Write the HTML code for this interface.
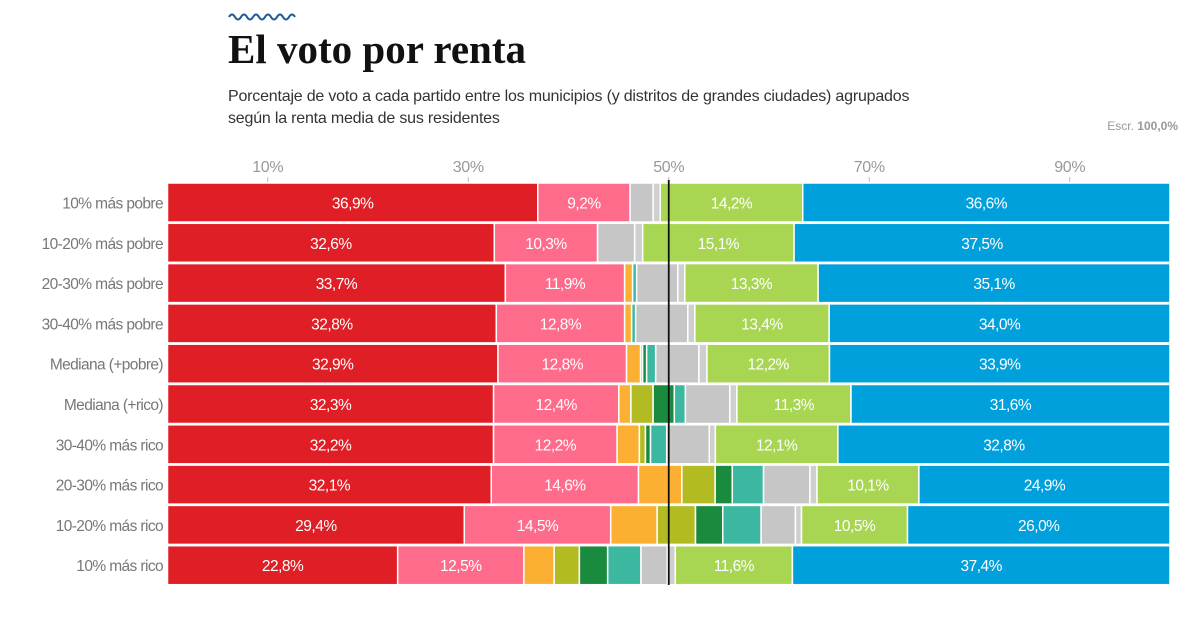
<!DOCTYPE html>
<html><head><meta charset="utf-8"><style>
body{margin:0;background:#fff;width:1200px;height:622px;overflow:hidden;font-family:"Liberation Sans",sans-serif}
svg{position:absolute;left:0;top:0}
</style></head><body>
<svg id="c" width="1200" height="622">
<path d="M229 17 q3 -5 6 0 q3 5 6 0 q3 -5 6 0 q3 5 6 0 q3 -5 6 0 q3 5 6 0 q3 -5 6 0 q3 5 6 0 q3 -5 6 0 q3 5 6 0 q3 -5 6 0" fill="none" stroke="#1a5a9a" stroke-width="2"/>
<text x="228" y="63" font-family="Liberation Serif,serif" font-weight="bold" font-size="41" fill="#111">El voto por renta</text>
<text x="228" y="101" font-size="16" letter-spacing="-0.2" fill="#333">Porcentaje de voto a cada partido entre los municipios (y distritos de grandes ciudades) agrupados</text>
<text x="228" y="123" font-size="16" letter-spacing="-0.2" fill="#333">según la renta media de sus residentes</text>
<text x="1178" y="130" font-size="12" fill="#999" text-anchor="end">Escr. <tspan font-weight="bold">100,0%</tspan></text>
<g id="g"></g>
</svg>
<script>
const categories=["10% más pobre","10-20% más pobre","20-30% más pobre","30-40% más pobre","Mediana (+pobre)","Mediana (+rico)","30-40% más rico","20-30% más rico","10-20% más rico","10% más rico"];
const red=[36.9,32.6,33.7,32.8,32.9,32.3,32.2,32.1,29.4,22.8];
const pink=[9.2,10.3,11.9,12.8,12.8,12.4,12.2,14.6,14.5,12.5];
const orange=[0,0,0.8,0.7,1.4,1.2,2.2,4.3,4.6,3.0];
const olive=[0,0,0,0,0.2,2.2,0.6,3.3,3.8,2.5];
const dgreen=[0,0,0,0,0.4,2.1,0.5,1.7,2.7,2.8];
const teal=[0,0,0.4,0.4,0.9,1.1,1.6,3.1,3.8,3.3];
const gray=[2.3,3.7,4.1,5.2,4.3,4.4,4.2,4.6,3.4,2.6];
const lgray=[0.7,0.8,0.7,0.7,0.8,0.7,0.6,0.7,0.6,0.8];
const lgreen=[14.2,15.1,13.3,13.4,12.2,11.3,12.1,10.1,10.5,11.6];
const blue=[36.6,37.5,35.1,34.0,33.9,31.6,32.8,24.9,26.0,37.4];
const ticks=[10,30,50,70,90];
const series=[["red",red,"#e01e25",true],["pink",pink,"#ff6b8a",true],["orange",orange,"#fbb034",false],["olive",olive,"#b3bb22",false],["dark-green",dgreen,"#1a8a3e",false],["teal",teal,"#3db8a0",false],["gray",gray,"#c6c6c6",false],["light-gray",lgray,"#cfcfcf",false],["light-green",lgreen,"#a8d653",true],["blue",blue,"#00a0dc",true]];
const X0=167.5,X1=1170;
const x=v=>X0+(X1-X0)*v/100;
const rowY=i=>183+i*40.3, BH=39;
const NS="http://www.w3.org/2000/svg";
const g=document.getElementById('g');
function mk(t,a){const e=document.createElementNS(NS,t);for(const k in a)e.setAttribute(k,a[k]);g.appendChild(e);return e;}
ticks.forEach(t=>{
 const e=mk('text',{x:x(t),y:172,'font-size':16,fill:'#999','text-anchor':'middle','letter-spacing':'-0.3'});e.textContent=t+'%';
 
 
 const l=mk('line',{x1:x(t),x2:x(t),y1:177,y2:182,stroke:'#bbb'});
 
 
});
categories.forEach((c,i)=>{
 const y=rowY(i);
 const lb=mk('text',{x:163,y:y+BH/2+6,'font-size':15.5,fill:'#777','text-anchor':'end','letter-spacing':'-0.6'});lb.textContent=c;
 
 
 let tot=0;series.forEach(s=>tot+=s[1][i]);
 let cum=0;
 series.forEach(s=>{
  const v=s[1][i]*100/tot;
  if(v<=0)return;
  const xa=x(cum),xb=x(cum+v);
  const r=mk('rect',{x:xa,y:y,width:Math.max(0,xb-xa),height:BH,fill:s[2],stroke:'#fff','stroke-width':1.5});
  
  
  if(s[3]){
   const t=mk('text',{x:(xa+xb)/2,y:y+BH/2+6,'font-size':15.5,fill:'#fff','text-anchor':'middle','letter-spacing':'-0.5'});
   t.textContent=s[1][i].toFixed(1).replace('.',',')+'%';
   
   
  }
  cum+=v;
 });
});
const ml=mk('line',{x1:x(50),x2:x(50),y1:180,y2:585,stroke:'#111','stroke-width':1.8});


</script>
</body></html>
